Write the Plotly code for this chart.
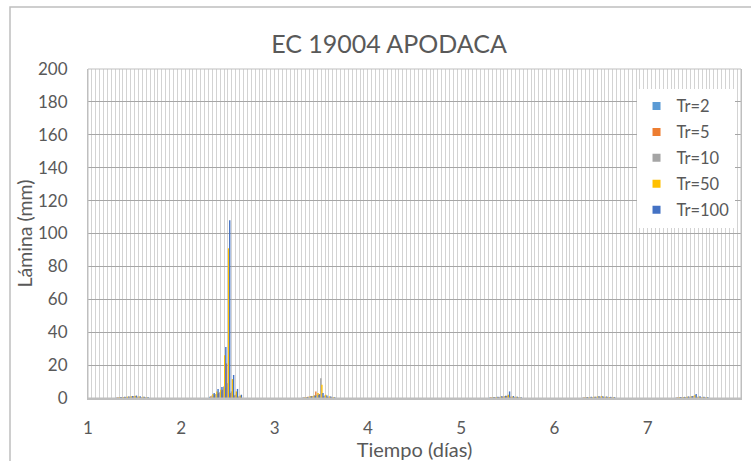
import plotly.graph_objects as go

# ---- data ---------------------------------------------------------------
n_hours = 168                      # 7 days, hourly
day_start = 1                      # x axis starts at day 1
storm_start = [8, 32, 56, 104, 128, 152]   # first hour index of each storm block

series_names = ["Tr=2", "Tr=5", "Tr=10", "Tr=50", "Tr=100"]
series_colors = ["#5B9BD5", "#ED7D31", "#A5A5A5", "#FFC000", "#4472C4"]

tr2_storms = [
    [0.3, 0.4, 0.5, 0.6, 0.8, 0.5, 0.4, 0.3],
    [0.8, 1.5, 2.5, 4.0, 6.0, 2.5, 1.0, 0.5],
    [0.4, 0.6, 1.0, 1.5, 2.0, 0.8, 0.5, 0.3],
    [0.3, 0.4, 0.5, 0.7, 1.0, 0.6, 0.4, 0.3],
    [0.3, 0.4, 0.5, 0.6, 0.7, 0.5, 0.4, 0.3],
    [0.3, 0.4, 0.5, 0.6, 0.9, 0.5, 0.4, 0.3],
]
tr5_storms = [
    [0.4, 0.5, 0.6, 0.8, 1.0, 0.7, 0.5, 0.4],
    [1.0, 2.0, 3.0, 5.0, 21.0, 3.0, 1.5, 0.8],
    [0.5, 0.8, 1.2, 4.0, 2.5, 1.0, 0.6, 0.4],
    [0.4, 0.5, 0.6, 0.8, 1.2, 0.7, 0.5, 0.4],
    [0.4, 0.5, 0.6, 0.7, 0.8, 0.6, 0.5, 0.4],
    [0.4, 0.5, 0.6, 0.7, 1.1, 0.6, 0.5, 0.4],
]
tr10_storms = [
    [0.4, 0.5, 0.7, 0.9, 1.1, 0.8, 0.6, 0.4],
    [1.5, 2.5, 3.5, 7.0, 9.0, 4.0, 2.0, 1.0],
    [0.5, 0.8, 1.2, 2.0, 12.0, 1.5, 0.8, 0.4],
    [0.4, 0.5, 0.7, 0.9, 1.5, 0.8, 0.6, 0.4],
    [0.4, 0.5, 0.6, 0.8, 0.9, 0.7, 0.5, 0.4],
    [0.4, 0.5, 0.6, 0.8, 1.4, 0.7, 0.5, 0.4],
]
tr50_storms = [
    [0.5, 0.6, 0.8, 1.0, 1.3, 0.9, 0.7, 0.5],
    [2.5, 4.0, 5.0, 26.0, 91.0, 11.5, 4.0, 1.5],
    [0.6, 1.0, 1.5, 3.0, 8.0, 2.0, 1.0, 0.5],
    [0.5, 0.6, 0.8, 1.0, 2.0, 0.9, 0.7, 0.5],
    [0.5, 0.6, 0.7, 0.9, 1.0, 0.8, 0.6, 0.5],
    [0.5, 0.6, 0.7, 0.9, 1.8, 0.8, 0.6, 0.5],
]
tr100_storms = [
    [0.6, 0.7, 0.9, 1.2, 1.5, 1.0, 0.8, 0.6],
    [3.0, 5.5, 6.7, 31.0, 108.0, 14.0, 5.5, 2.0],
    [0.6, 0.9, 1.3, 2.0, 3.0, 1.5, 0.9, 0.5],
    [0.6, 0.8, 1.0, 1.3, 4.0, 1.2, 0.8, 0.5],
    [0.6, 0.7, 0.8, 1.0, 1.1, 0.9, 0.7, 0.6],
    [0.6, 0.7, 0.9, 1.1, 2.5, 1.0, 0.8, 0.6],
]
all_storms = [tr2_storms, tr5_storms, tr10_storms, tr50_storms, tr100_storms]

y_ticks = list(range(0, 201, 20))
x_ticks = [1, 2, 3, 4, 5, 6, 7]

# ---- assemble hourly series ----------------------------------------------
hours = list(range(n_hours))
x_vals = [day_start + h / 24 for h in hours]


def build(storms):
    vals = [0.0] * n_hours
    for s0, block in zip(storm_start, storms):
        for k, v in enumerate(block):
            vals[s0 + k] = v
    return vals


def rgba(hex_color, a=0.995):
    h = hex_color.lstrip("#")
    return "rgba(%d,%d,%d,%s)" % (int(h[0:2], 16), int(h[2:4], 16), int(h[4:6], 16), a)


FONT = "Lato"
TXT = "#595959"
PX = 7 / 653                     # one screen pixel in day units (styling only)
bar_w = 1.4 * PX
bar_off = [-3.3 * PX, -2.2 * PX, -1.1 * PX, 0.0, 1.1 * PX]

fig = go.Figure()
for name, color, storms, off in zip(series_names, series_colors, all_storms, bar_off):
    fig.add_trace(go.Bar(
        x=x_vals, y=build(storms), name=name,
        width=bar_w, offset=off,
        marker=dict(color=rgba(color), line=dict(width=0)),
        showlegend=False,
    ))
# legend entries (small squares like Excel)
for name, color in zip(series_names, series_colors):
    fig.add_trace(go.Scatter(
        x=[None], y=[None], mode="markers", name=name, legendgroup=name,
        marker=dict(symbol="square", size=8, color=color),
    ))

fig.update_layout(
    width=751, height=461,
    margin=dict(l=88, r=10, t=69, b=63),
    paper_bgcolor="white", plot_bgcolor="white",
    barmode="overlay", bargap=0.05,
    font=dict(family=FONT, color=TXT, size=16),
    title=dict(text="EC 19004 APODACA", x=0.518, xanchor="center",
               y=1 - 44 / 461, yanchor="middle",
               font=dict(family=FONT, size=25, color=TXT)),
    legend=dict(x=0.84, xanchor="left", y=0.94, yanchor="top",
                bgcolor="white", borderwidth=0,
                font=dict(family=FONT, size=16.5, color=TXT),
                tracegroupgap=1.5, itemwidth=30),
    showlegend=True,
)
fig.update_xaxes(
    range=[1, 8], tickmode="array", tickvals=x_ticks,
    ticktext=[str(v) for v in x_ticks],
    showgrid=True, gridcolor="#D3D3D3", gridwidth=1,
    minor=dict(tick0=1, dtick=1 / 24, showgrid=True, gridcolor="#D3D3D3", gridwidth=1),
    showline=True, linecolor="#BFBFBF", linewidth=2,
    ticks="", ticklabelstandoff=14, zeroline=False, automargin=False,
    tickfont=dict(size=17, family=FONT, color=TXT),
    title=dict(text="Tiempo (días)", standoff=5, font=dict(size=20, family=FONT, color=TXT)),
)
fig.update_yaxes(
    range=[0, 200], tickmode="array", tickvals=y_ticks,
    showgrid=True, gridcolor="#A6A6A6", gridwidth=1,
    showline=True, linecolor="#BFBFBF", linewidth=1, mirror=True,
    ticks="", ticklabelstandoff=16, zeroline=False, automargin=False,
    tickfont=dict(size=17, family=FONT, color=TXT),
    title=dict(text="Lámina (mm)", standoff=0, font=dict(size=19.5, family=FONT, color=TXT)),
)
# plot area outline and chart-area border
fig.add_shape(type="rect", xref="paper", yref="paper", x0=0, x1=1, y0=0, y1=1,
              line=dict(color="#BFBFBF", width=1), fillcolor="rgba(0,0,0,0)", layer="above")
fig.add_shape(type="rect", xref="paper", yref="paper",
              x0=-78 / 653, x1=1 + 30 / 653, y0=-100 / 329, y1=1 + 62 / 329,
              line=dict(color="#BFBFBF", width=1.5), fillcolor="rgba(0,0,0,0)")

fig.write_html("out.html")
